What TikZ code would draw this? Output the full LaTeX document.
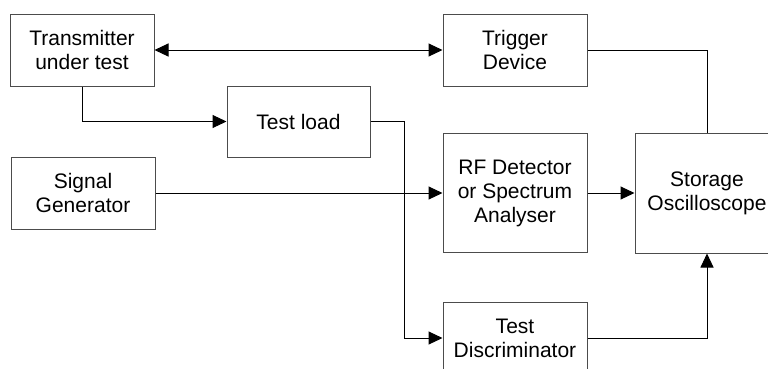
\documentclass[tikz,border=0pt]{standalone}
\usepackage{fontspec}
\setmainfont{Liberation Sans}
\usetikzlibrary{arrows.meta}
\begin{document}
\begin{tikzpicture}[x=1pt,y=-1pt,
  blk/.style={draw=black!70,line width=1pt,fill=white,align=center,inner sep=0pt,
    minimum width=144pt,minimum height=72pt,font=\fontsize{21}{24}\selectfont},
  conn/.style={line width=1pt,black},
  arr/.style={conn,-{Triangle[length=14pt,width=13pt]}},
  darr/.style={conn,{Triangle[length=14pt,width=13pt]}-{Triangle[length=14pt,width=13pt]}}]
\useasboundingbox (0,0) rectangle (768,368);
\clip (0,0) rectangle (768,368);
\node[blk] (tx) at (82,50) {Transmitter\\under test};
\node[blk,minimum width=143pt,minimum height=71pt] (load) at (298.5,121.5) {Test load};
\node[blk] (trig) at (515,50) {Trigger\\Device};
\node[blk] (sig) at (83,193) {Signal\\Generator};
\node[blk,minimum height=119pt] (rf) at (515,193) {RF Detector\\or Spectrum\\Analyser};
\node[blk,minimum height=120pt] (osc) at (707,193) {Storage\\Oscilloscope};
\node[blk] (disc) at (515,338) {Test\\Discriminator};
\coordinate (bend) at (404,121.5);
\draw[darr] (tx.east) -- (trig.west);
\draw[arr] (tx.south) |- (load.west);
\draw[arr] (load.east) -- (bend) |- (disc.west);
\draw[arr] (sig.east) -- (rf.west);
\draw[arr] (rf.east) -- (osc.west);
\draw[conn] (trig.east) -| (osc.north);
\draw[arr] (disc.east) -| (osc.south);
\end{tikzpicture}
\end{document}
